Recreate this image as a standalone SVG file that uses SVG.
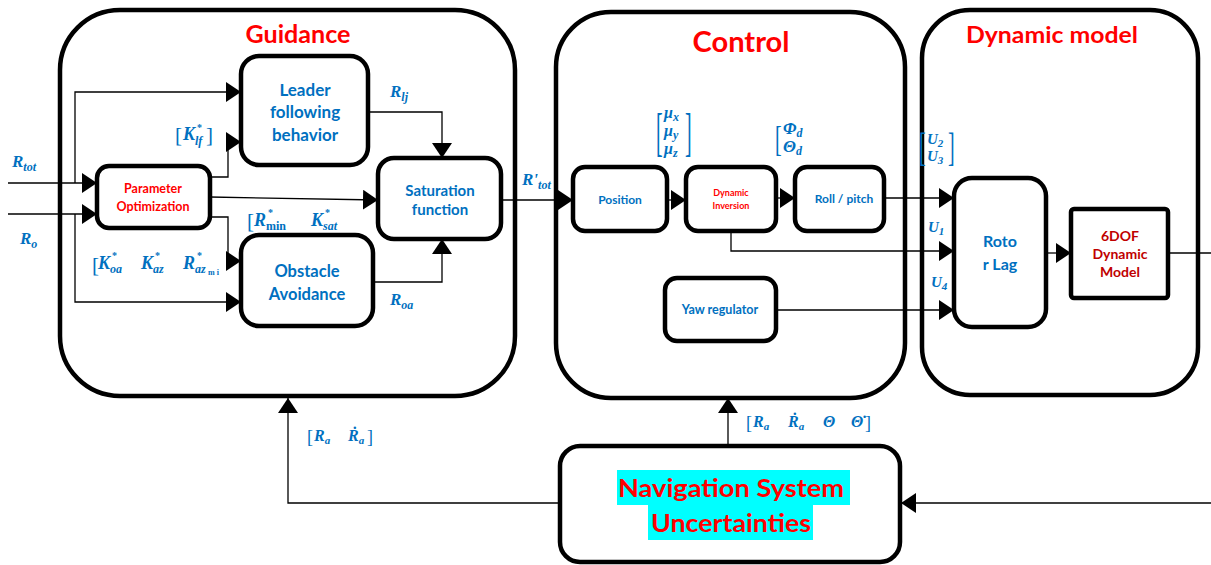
<svg xmlns="http://www.w3.org/2000/svg" width="1211" height="565" viewBox="0 0 1211 565">
  <defs>
    <marker id="arr" markerUnits="userSpaceOnUse" markerWidth="15" markerHeight="20" refX="15" refY="10" orient="auto">
      <path d="M0,0 L15,10 L0,20 z" fill="#000"/>
    </marker>
    <style>
      .frame { fill: #fff; stroke: #000; stroke-width: 4.5; }
      .blk { fill: #fff; stroke: #000; stroke-width: 4.5; }
      .wire { fill: none; stroke: #000; stroke-width: 1.3; }
      .arrow { fill: none; stroke: #000; stroke-width: 1.3; marker-end: url(#arr); }
      .title { font-family: Lato, "Liberation Sans", sans-serif; font-weight: bold; fill: #ff0000; text-anchor: middle; }
      .lbl { font-family: Lato, "Liberation Sans", sans-serif; font-weight: bold; fill: #0070c0; text-anchor: middle; }
      .red { font-family: Lato, "Liberation Sans", sans-serif; font-weight: bold; fill: #ff0000; text-anchor: middle; }
      .dred { font-family: Lato, "Liberation Sans", sans-serif; font-weight: bold; fill: #c00000; text-anchor: middle; }
      .m { font-family: "Liberation Serif", "DejaVu Serif", serif; font-weight: bold; font-style: italic; fill: #0070c0; }
      .mu { font-family: "Liberation Serif", "DejaVu Serif", serif; font-weight: bold; fill: #0070c0; }
      .br { font-family: "Liberation Serif", "DejaVu Serif", serif; fill: #0070c0; }
    </style>
  </defs>

  <!-- subsystem frames -->
  <g id="guidance">
    <rect class="frame" x="60" y="10" width="455" height="386" rx="60"/>
    <text class="title" x="298" y="43" font-size="24" textLength="105" lengthAdjust="spacingAndGlyphs">Guidance</text>
  </g>
  <g id="control">
    <rect class="frame" x="556" y="12" width="349" height="386" rx="55"/>
    <text class="title" x="741" y="52" font-size="28" textLength="97" lengthAdjust="spacingAndGlyphs">Control</text>
  </g>
  <g id="dynamic-model">
    <rect class="frame" x="922" y="10" width="276" height="385" rx="48"/>
    <text class="title" x="1052" y="43" font-size="23" textLength="172" lengthAdjust="spacingAndGlyphs">Dynamic model</text>
  </g>

  <!-- connectors -->
  <g id="connectors">
    <path class="arrow" d="M8,183 H97"/>
    <path class="arrow" d="M8,214 H97"/>
    <path class="arrow" d="M75,183 V92 H241"/>
    <path class="arrow" d="M75,214 V302 H241"/>
    <path class="arrow" d="M210,177 H228 V142 H241"/>
    <path class="arrow" d="M210,197 L378,200"/>
    <path class="arrow" d="M210,217 H228 V261 H241"/>
    <path class="arrow" d="M368,112 H442 V158"/>
    <path class="arrow" d="M373,282 H442 V239"/>
    <path class="arrow" d="M501,200 H573"/>
    <path class="arrow" d="M667,200 H686"/>
    <path class="arrow" d="M776,198 H795"/>
    <path class="arrow" d="M884,198 H954"/>
    <path class="arrow" d="M731,231 V251 H954"/>
    <path class="arrow" d="M776,310 H954"/>
    <path class="arrow" d="M1046,253 H1071"/>
    <path class="wire" d="M1168,253 H1211"/>
    <path class="arrow" d="M560,503 H288 V398"/>
    <path class="arrow" d="M728,446 V398"/>
    <path class="arrow" d="M1211,503 H901"/>
  </g>

  <!-- guidance blocks -->
  <g id="parameter-optimization">
    <rect class="blk" x="97" y="166" width="113" height="62" rx="12"/>
    <text class="red" x="153" y="193" font-size="12.5">Parameter</text>
    <text class="red" x="153" y="211" font-size="12.5">Optimization</text>
  </g>
  <g id="leader-following">
    <rect class="blk" x="241" y="56" width="127" height="109" rx="18"/>
    <text class="lbl" x="305" y="96" font-size="17">Leader</text>
    <text class="lbl" x="305" y="118" font-size="17">following</text>
    <text class="lbl" x="305" y="141" font-size="17">behavior</text>
  </g>
  <g id="obstacle-avoidance">
    <rect class="blk" x="241" y="235" width="132" height="91" rx="18"/>
    <text class="lbl" x="307" y="277" font-size="16.5">Obstacle</text>
    <text class="lbl" x="307" y="300" font-size="16.5">Avoidance</text>
  </g>
  <g id="saturation-function">
    <rect class="blk" x="378" y="158" width="123" height="81" rx="16"/>
    <text class="lbl" x="440" y="196" font-size="15">Saturation</text>
    <text class="lbl" x="440" y="215" font-size="15">function</text>
  </g>

  <!-- control blocks -->
  <g id="position">
    <rect class="blk" x="573" y="167" width="94" height="64" rx="12"/>
    <text class="lbl" x="620" y="204" font-size="12">Position</text>
  </g>
  <g id="dynamic-inversion">
    <rect class="blk" x="686" y="167" width="90" height="64" rx="12"/>
    <text class="red" x="731" y="196" font-size="9">Dynamic</text>
    <text class="red" x="731" y="209" font-size="9">Inversion</text>
  </g>
  <g id="roll-pitch">
    <rect class="blk" x="795" y="167" width="89" height="64" rx="12"/>
    <text class="lbl" x="844" y="203" font-size="12">Roll / pitch</text>
  </g>
  <g id="yaw-regulator">
    <rect class="blk" x="665" y="278" width="111" height="63" rx="12"/>
    <text class="lbl" x="720" y="314" font-size="12.5">Yaw regulator</text>
  </g>

  <!-- dynamic model blocks -->
  <g id="rotor-lag">
    <rect class="blk" x="954" y="178" width="92" height="149" rx="18"/>
    <text class="lbl" x="1000" y="247" font-size="16">Roto</text>
    <text class="lbl" x="1000" y="270" font-size="16">r Lag</text>
  </g>
  <g id="six-dof-model">
    <rect class="blk" x="1071" y="209" width="97" height="89" rx="3"/>
    <text class="dred" x="1120" y="241" font-size="14">6DOF</text>
    <text class="dred" x="1120" y="259" font-size="14">Dynamic</text>
    <text class="dred" x="1120" y="277" font-size="14">Model</text>
  </g>

  <!-- navigation block -->
  <g id="navigation-uncertainties">
    <rect class="blk" x="560" y="446" width="340" height="116" rx="20"/>
    <rect x="617" y="470" width="233" height="35" fill="#00ffff"/>
    <rect x="648" y="505" width="165" height="35" fill="#00ffff"/>
    <text class="red" x="731" y="497" font-size="25" textLength="226" lengthAdjust="spacingAndGlyphs">Navigation System</text>
    <text class="red" x="731" y="532" font-size="25" textLength="160" lengthAdjust="spacingAndGlyphs">Uncertainties</text>
  </g>

  <!-- signal labels -->
  <g id="signal-labels">
    <text class="m" x="12" y="167" font-size="17">R<tspan font-size="12" dy="4">tot</tspan></text>
    <text class="m" x="20" y="244" font-size="17">R<tspan font-size="12" dy="4">o</tspan></text>

    <text class="br" x="175" y="142" font-size="21">[</text>
    <text class="m" x="183" y="140" font-size="18">K</text>
    <text class="mu" x="197" y="131" font-size="10">*</text>
    <text class="m" x="195" y="145" font-size="12">lf</text>
    <text class="br" x="206" y="142" font-size="21">]</text>

    <text class="br" x="247" y="228" font-size="21">[</text>
    <text class="m" x="254" y="226" font-size="18">R</text>
    <text class="mu" x="268" y="216" font-size="10">*</text>
    <text class="mu" x="266" y="230" font-size="12">min</text>
    <text class="m" x="311" y="226" font-size="18">K</text>
    <text class="mu" x="325" y="216" font-size="10">*</text>
    <text class="m" x="323" y="230" font-size="12">sat</text>

    <text class="br" x="92" y="272" font-size="21">[</text>
    <text class="m" x="98" y="269" font-size="18">K</text>
    <text class="mu" x="112" y="259" font-size="10">*</text>
    <text class="m" x="110" y="273" font-size="12">oa</text>
    <text class="m" x="141" y="269" font-size="18">K</text>
    <text class="mu" x="155" y="259" font-size="10">*</text>
    <text class="m" x="153" y="273" font-size="12">az</text>
    <text class="m" x="183" y="269" font-size="18">R</text>
    <text class="mu" x="197" y="259" font-size="10">*</text>
    <text class="m" x="195" y="273" font-size="12">az</text>
    <text class="mu" x="208" y="275" font-size="8">m i</text>

    <text class="m" x="390" y="97" font-size="17">R<tspan font-size="12" dy="4">lj</tspan></text>
    <text class="m" x="390" y="305" font-size="17">R<tspan font-size="12" dy="4">oa</tspan></text>
    <text class="m" x="522" y="185" font-size="17">R'<tspan font-size="12" dy="4">tot</tspan></text>

    <text class="br" transform="translate(656,150) scale(1,2.6)" font-size="20">[</text>
    <text class="m" x="664" y="118" font-size="16">μ<tspan font-size="12" dy="3">x</tspan></text>
    <text class="m" x="664" y="136" font-size="16">μ<tspan font-size="12" dy="3">y</tspan></text>
    <text class="m" x="664" y="154" font-size="16">μ<tspan font-size="12" dy="3">z</tspan></text>
    <text class="br" transform="translate(685,150) scale(1,2.6)" font-size="20">]</text>

    <text class="br" transform="translate(775,151) scale(1,1.8)" font-size="20">[</text>
    <text class="m" x="783" y="134" font-size="17">Φ<tspan font-size="12" dy="3">d</tspan></text>
    <text class="m" x="783" y="152" font-size="17">Θ<tspan font-size="12" dy="3">d</tspan></text>

    <text class="br" transform="translate(919,161) scale(1,2.0)" font-size="20">[</text>
    <text class="m" x="927" y="144" font-size="15">U<tspan font-size="11" dy="3">2</tspan></text>
    <text class="m" x="927" y="161" font-size="15">U<tspan font-size="11" dy="3">3</tspan></text>
    <text class="br" transform="translate(948,161) scale(1,2.0)" font-size="20">]</text>

    <text class="m" x="928" y="232" font-size="15">U<tspan font-size="11" dy="3">1</tspan></text>
    <text class="m" x="931" y="287" font-size="15">U<tspan font-size="11" dy="3">4</tspan></text>

    <text class="br" x="307" y="443" font-size="18">[</text>
    <text class="m" x="314" y="441" font-size="16">R<tspan font-size="11" dy="3">a</tspan></text>
    <text class="m" x="348" y="441" font-size="16">Ṙ<tspan font-size="11" dy="3">a</tspan></text>
    <text class="br" x="367" y="443" font-size="18">]</text>

    <text class="br" x="746" y="429" font-size="18">[</text>
    <text class="m" x="753" y="427" font-size="16">R<tspan font-size="11" dy="3">a</tspan></text>
    <text class="m" x="788" y="427" font-size="16">Ṙ<tspan font-size="11" dy="3">a</tspan></text>
    <text class="m" x="823" y="427" font-size="16">Θ</text>
    <text class="m" x="851" y="427" font-size="16">Θ̇</text>
    <text class="br" x="865" y="429" font-size="18">]</text>
  </g>
</svg>
